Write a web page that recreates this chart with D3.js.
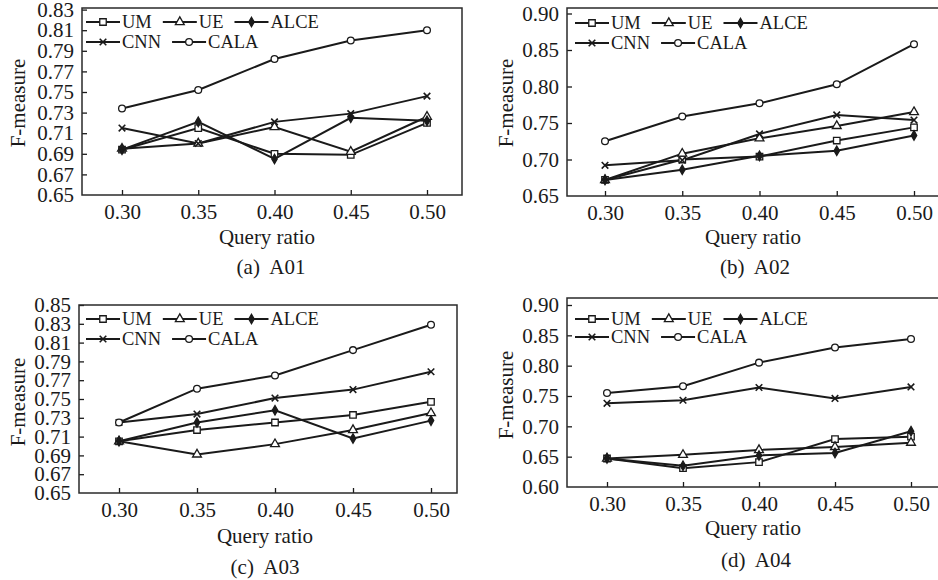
<!DOCTYPE html>
<meta charset="utf-8">
<script src="https://cdn.jsdelivr.net/npm/d3@7"></script>
<style>
body { margin: 0; background: #fff; }
svg text { font-family: "Liberation Serif", "Times New Roman", serif; fill: #1a1a1a; }
.tick line { stroke: #1a1a1a; stroke-width: 1.3px; }
.frame { fill: none; stroke: #2a2a2a; stroke-width: 1.5px; }
.series { fill: none; stroke: #1a1a1a; stroke-width: 2px; }
</style>
<svg width="938" height="580"></svg>
<script>

// x values shared by all four panels
var ratios = [0.30, 0.35, 0.40, 0.45, 0.50];
var names = ["UM", "UE", "ALCE", "CNN", "CALA"];

// (a) A01
var a01UM   = [0.694, 0.715, 0.690, 0.689, 0.720];
var a01UE   = [0.695, 0.700, 0.716, 0.692, 0.726];
var a01ALCE = [0.694, 0.721, 0.685, 0.725, 0.722];
var a01CNN  = [0.715, 0.700, 0.721, 0.729, 0.746];
var a01CALA = [0.734, 0.752, 0.782, 0.800, 0.810];
var a01Ticks = [0.65, 0.67, 0.69, 0.71, 0.73, 0.75, 0.77, 0.79, 0.81, 0.83];

// (b) A02
var a02UM   = [0.672, 0.700, 0.704, 0.726, 0.744];
var a02UE   = [0.672, 0.708, 0.729, 0.746, 0.765];
var a02ALCE = [0.672, 0.686, 0.705, 0.712, 0.733];
var a02CNN  = [0.692, 0.699, 0.735, 0.761, 0.754];
var a02CALA = [0.725, 0.759, 0.777, 0.803, 0.858];
var a02Ticks = [0.65, 0.70, 0.75, 0.80, 0.85, 0.90];

// (c) A03
var a03UM   = [0.705, 0.717, 0.725, 0.733, 0.747];
var a03UE   = [0.705, 0.691, 0.702, 0.717, 0.735];
var a03ALCE = [0.705, 0.725, 0.738, 0.708, 0.727];
var a03CNN  = [0.725, 0.734, 0.751, 0.760, 0.779];
var a03CALA = [0.725, 0.761, 0.775, 0.802, 0.829];
var a03Ticks = [0.65, 0.67, 0.69, 0.71, 0.73, 0.75, 0.77, 0.79, 0.81, 0.83, 0.85];

// (d) A04
var a04UM   = [0.647, 0.631, 0.641, 0.679, 0.683];
var a04UE   = [0.647, 0.653, 0.661, 0.666, 0.673];
var a04ALCE = [0.647, 0.635, 0.652, 0.656, 0.692];
var a04CNN  = [0.738, 0.743, 0.764, 0.746, 0.765];
var a04CALA = [0.755, 0.766, 0.805, 0.830, 0.844];
var a04Ticks = [0.60, 0.65, 0.70, 0.75, 0.80, 0.85, 0.90];

var panels = [
  { caption: "(a)  A01", series: [a01UM, a01UE, a01ALCE, a01CNN, a01CALA], ticks: a01Ticks,
    box: [82, 8, 462, 195], xr: [122, 427], yr: [195, 9.6],
    leg: [86, 22, 42], ylab: [18, 103], xlab: [267, 237], cap: [271, 267] },
  { caption: "(b)  A02", series: [a02UM, a02UE, a02ALCE, a02CNN, a02CALA], ticks: a02Ticks,
    box: [567, 8, 941, 196], xr: [605, 914], yr: [196, 13.5],
    leg: [575, 23, 43], ylab: [506, 103], xlab: [753, 237], cap: [755, 267] },
  { caption: "(c)  A03", series: [a03UM, a03UE, a03ALCE, a03CNN, a03CALA], ticks: a03Ticks,
    box: [79, 305, 457, 493], xr: [119, 431], yr: [493, 305],
    leg: [86, 319, 339], ylab: [18, 402], xlab: [265, 536], cap: [265, 567] },
  { caption: "(d)  A04", series: [a04UM, a04UE, a04ALCE, a04CNN, a04CALA], ticks: a04Ticks,
    box: [567, 298, 941, 487], xr: [607, 911], yr: [487, 305],
    leg: [575, 319, 337], ylab: [506, 395], xlab: [753, 528], cap: [756, 560] }
];

var svg = d3.select("svg");

// marker per series: square, triangle, filled diamond, x, circle
function marker(sel, i) {
  var types = [d3.symbolSquare, d3.symbolTriangle, d3.symbolDiamond, d3.symbolX, d3.symbolCircle];
  var sizes = [42, 34, 26, 30, 36];
  sel.append("path")
    .attr("d", d3.symbol().type(types[i]).size(sizes[i]))
    .attr("fill", i == 2 ? "#1a1a1a" : (i == 3 ? "none" : "#fff"))
    .attr("stroke", "#1a1a1a")
    .attr("stroke-width", i == 3 ? 1.6 : 1.3);
}

panels.forEach(function(p) {
  var g = svg.append("g");
  var x = d3.scaleLinear().domain([0.30, 0.50]).range(p.xr);
  var y = d3.scaleLinear().domain([p.ticks[0], p.ticks[p.ticks.length - 1]]).range(p.yr);

  // axes with inward ticks
  var yAxis = g.append("g")
    .attr("transform", "translate(" + p.box[0] + ",0)")
    .call(d3.axisLeft(y).tickValues(p.ticks).tickFormat(d3.format(".2f"))
      .tickSize(-5).tickSizeOuter(0).tickPadding(8));
  var xAxis = g.append("g")
    .attr("transform", "translate(0," + p.box[3] + ")")
    .call(d3.axisBottom(x).tickValues(ratios).tickFormat(d3.format(".2f"))
      .tickSize(-5).tickSizeOuter(0).tickPadding(9));
  g.selectAll(".domain").remove();
  g.selectAll(".tick text").attr("font-size", 21).style("font-family", "Liberation Serif");
  // first tick of y sits on the frame, hide its tick mark
  yAxis.selectAll(".tick line").filter(function(d) { return d == p.ticks[0]; }).remove();

  g.append("rect").attr("class", "frame")
    .attr("x", p.box[0]).attr("y", p.box[1])
    .attr("width", p.box[2] - p.box[0]).attr("height", p.box[3] - p.box[1]);

  // lines
  var line = d3.line().x(function(d, i) { return x(ratios[i]); }).y(function(d) { return y(d); });
  p.series.forEach(function(s, si) {
    g.append("path").attr("class", "series").attr("d", line(s));
  });
  p.series.forEach(function(s, si) {
    s.forEach(function(v, i) {
      var m = g.append("g").attr("transform", "translate(" + x(ratios[i]) + "," + y(v) + ")");
      marker(m, si);
    });
  });

  // legend, two rows
  var rows = [[0, 1, 2], [3, 4]];
  rows.forEach(function(row, ri) {
    var cx = p.leg[0], cy = p.leg[ri + 1];
    row.forEach(function(si) {
      g.append("line").attr("x1", cx).attr("x2", cx + 34).attr("y1", cy).attr("y2", cy)
        .attr("stroke", "#1a1a1a").attr("stroke-width", 2.2);
      var m = g.append("g").attr("transform", "translate(" + (cx + 17) + "," + cy + ")");
      marker(m, si);
      var t = g.append("text").attr("x", cx + 36).attr("y", cy).attr("dy", "0.35em")
        .attr("font-size", 18.5).text(names[si]);
      cx = cx + 36 + t.node().getComputedTextLength() + 11;
    });
  });

  // titles
  g.append("text").attr("transform", "translate(" + p.ylab[0] + "," + p.ylab[1] + ") rotate(-90)")
    .attr("text-anchor", "middle").attr("dy", "0.35em").attr("font-size", 21).text("F-measure");
  g.append("text").attr("x", p.xlab[0]).attr("y", p.xlab[1]).attr("dy", "0.35em")
    .attr("text-anchor", "middle").attr("font-size", 21).text("Query ratio");
  g.append("text").attr("x", p.cap[0]).attr("y", p.cap[1]).attr("dy", "0.35em")
    .attr("text-anchor", "middle").attr("font-size", 21).style("white-space", "pre").text(p.caption);
});

</script>
